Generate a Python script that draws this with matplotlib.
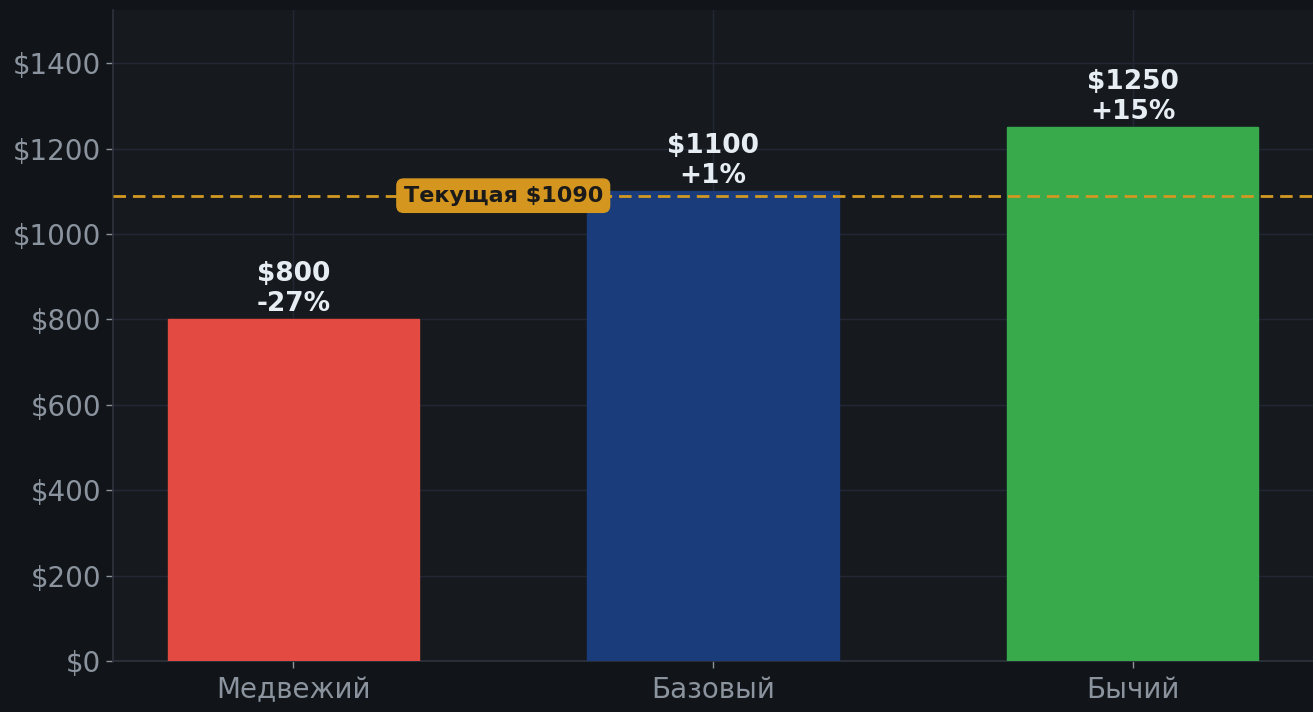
import matplotlib
matplotlib.use("Agg")
import matplotlib.pyplot as plt

categories = ["Медвежий", "Базовый", "Бычий"]
targets = [800, 1100, 1250]
changes = ["-27%", "+1%", "+15%"]
current_price = 1090
yticks = [0, 200, 400, 600, 800, 1000, 1200, 1400]

colors = ["#e34b42", "#1b3c7a", "#38aa4b"]
fig_bg = "#111418"
ax_bg = "#161a1f"
tick_color = "#8b949e"

plt.rcParams['font.family'] = ['DejaVu Sans']
fig = plt.figure(figsize=(13.13, 7.12), dpi=100, facecolor=fig_bg)
ax = fig.add_axes([0.0861, 0.0716, 0.9139, 0.9144])
ax.set_facecolor(ax_bg)

x = list(range(len(categories)))
bars = ax.bar(x, targets, width=0.6, color=colors, edgecolor=[c for c in colors], linewidth=1, zorder=3)

for xi, v, ch in zip(x, targets, changes):
    ax.annotate(f"${v}\n{ch}", xy=(xi, v), xytext=(0, 2), textcoords="offset points",
                ha="center", va="bottom", fontsize=19, fontweight="bold",
                color="#e6edf3", linespacing=1.2, zorder=5)

ax.axhline(current_price, color="#d29922", linestyle=(0, (4.5, 2.5)), linewidth=2, zorder=4)
ax.text(0.5, current_price, f"Текущая ${current_price}", ha="center", va="center",
        fontsize=16, fontweight="bold", color="#1a1a1a", zorder=6,
        bbox=dict(boxstyle="round,pad=0.3,rounding_size=0.3", facecolor="#d4961f", edgecolor="#d4961f"))

ax.set_xlim(-0.43, 2.43)
ax.set_ylim(0, 1525)
ax.set_xticks(x)
ax.set_xticklabels(categories)
ax.set_yticks(yticks)
ax.set_yticklabels([f"${t}" for t in yticks])
ax.tick_params(axis="both", colors=tick_color, labelsize=20, length=5, width=1)
ax.tick_params(axis="x", pad=6)
ax.grid(True, color="#232735", linewidth=1, zorder=0)
ax.set_axisbelow(True)
for s in ["top", "right"]:
    ax.spines[s].set_visible(False)
for s in ["left", "bottom"]:
    ax.spines[s].set_color("#2d333d")
    ax.spines[s].set_linewidth(1.2)

fig.savefig("out.png", dpi=100, facecolor=fig_bg)
